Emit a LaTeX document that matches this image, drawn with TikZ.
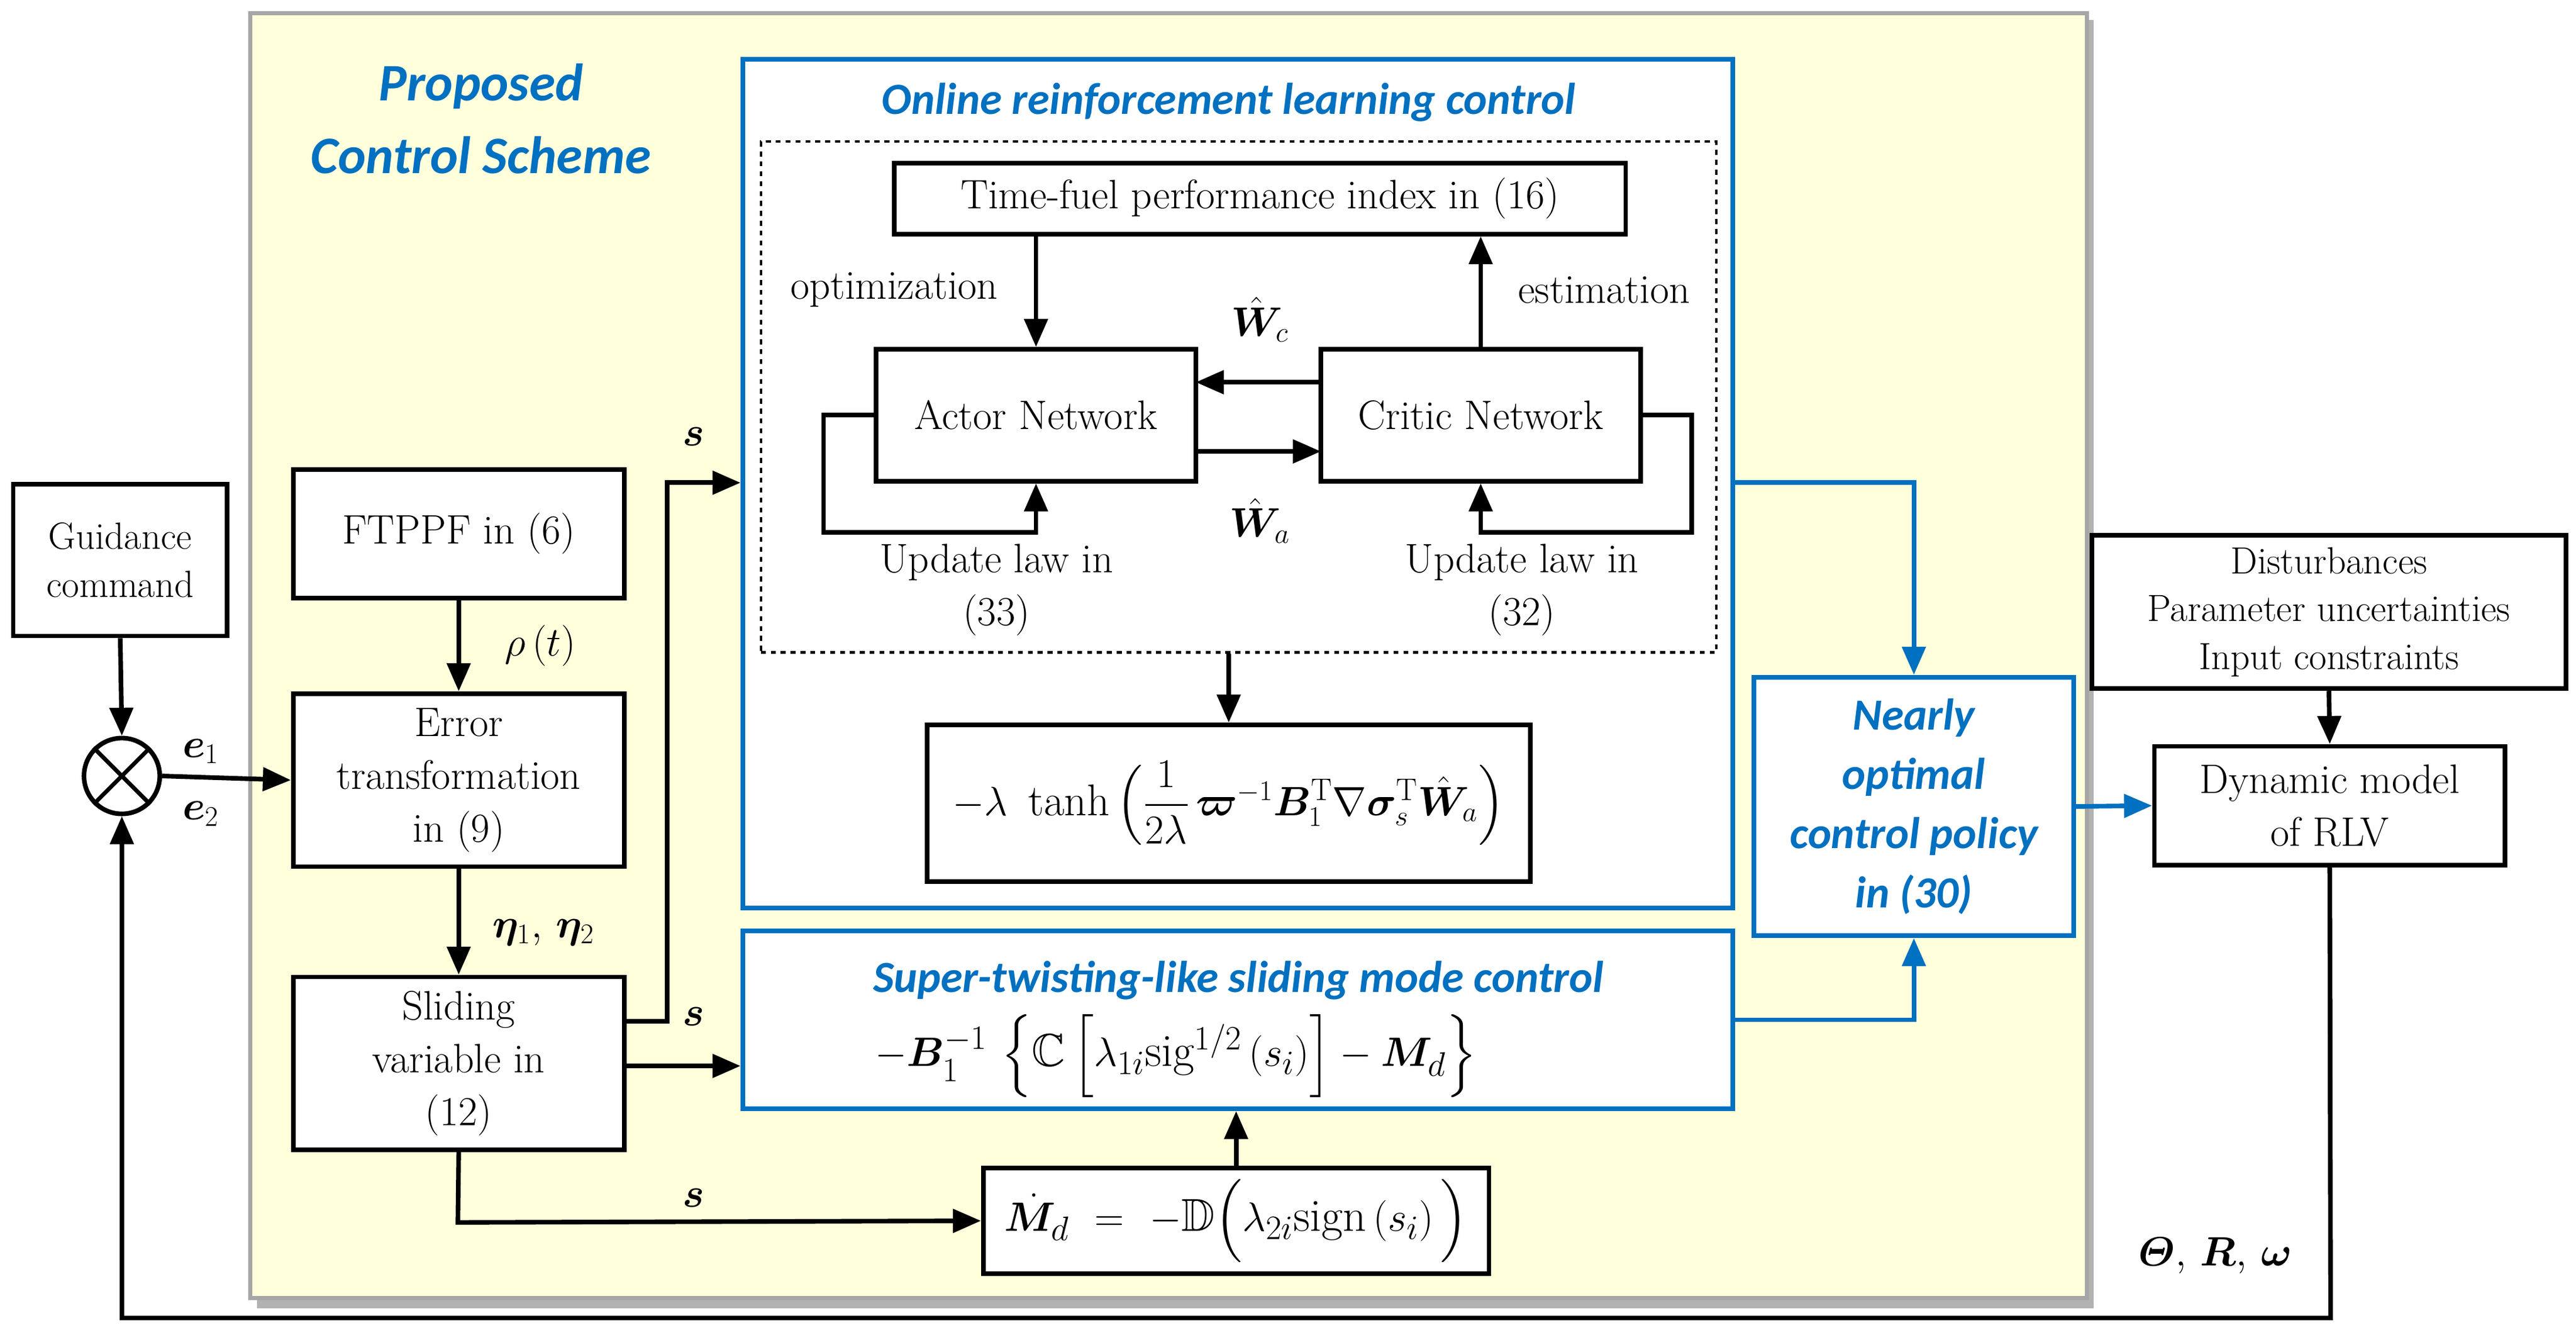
\documentclass[tikz,border=0pt]{standalone}
\usepackage{amsmath,amssymb,bm}
\usepackage{fontspec}
\newfontfamily\calib{Carlito}
\usetikzlibrary{arrows.meta}
\definecolor{cblue}{HTML}{0070C0}
\definecolor{panel}{HTML}{FFFFDC}
\begin{document}
\begin{tikzpicture}[x=1pt,y=-1pt,
  box/.style={draw=black,line width=2.8pt,fill=white,inner sep=0pt,align=center,font=\fontsize{25}{32}\selectfont},
  bbox/.style={draw=cblue,line width=2.8pt,fill=white,inner sep=0pt},
  arr/.style={line width=2.8pt,-{Triangle[length=17pt,width=14pt]}},
  barr/.style={draw=cblue,line width=2.8pt,-{Triangle[length=17pt,width=14pt]}},
  lbl/.style={font=\fontsize{25}{32}\selectfont},
  ttl/.style={text=cblue,font=\calib\bfseries\itshape\fontsize{27}{32}\selectfont},
]
\useasboundingbox (0,0) rectangle (1564,813);
\fill[white] (0,0) rectangle (1564,813);
% panel
\fill[gray!60] (156,12) rectangle (1271,794);
\node[draw=gray!70,line width=2.5pt,fill=panel,minimum width=1115pt,minimum height=780pt,inner sep=0pt] (panel) at (709.5,398) {};
\node[ttl,font=\calib\bfseries\itshape\fontsize{32}{44}\selectfont,align=center] (pcs) at (292,72) {Proposed\\Control Scheme};
% RL box
\node[bbox,minimum width=601pt,minimum height=515pt] (rl) at (751.5,293.5) {};
\node[ttl] (rlt) at (746,62) {Online reinforcement learning control};
\node[draw,dashed,line width=1.5pt,minimum width=580pt,minimum height=310pt,inner sep=0pt] (dot) at (752,241) {};
\node[box,minimum width=444pt,minimum height=43pt] (tf) at (765,120.5) {Time-fuel performance index in (16)};
\node[box,minimum width=194pt,minimum height=80pt] (actor) at (629,252) {Actor Network};
\node[box,minimum width=194pt,minimum height=80pt] (critic) at (899,252) {Critic Network};
\draw[arr] (tf.south -| actor) -- (actor.north);
\draw[arr] (critic.north) -- (tf.south -| critic);
\coordinate (c1) at (802,232); \coordinate (a1) at (726,232);
\draw[arr] (c1) -- (a1);
\coordinate (a2) at (726,274); \coordinate (c2) at (802,274);
\draw[arr] (a2) -- (c2);
\node[lbl] (wc) at (765,194) {$\hat{\bm W}_c$};
\node[lbl] (wa) at (765,316) {$\hat{\bm W}_a$};
\node[lbl] (opt) at (543,176) {optimization};
\node[lbl] (est) at (974,176) {estimation};
\coordinate (al) at (500,323); \coordinate (cr) at (1027,323);
\draw[arr] (actor.west) -| (al) -| (actor.south);
\draw[arr] (critic.east) -| (cr) -| (critic.south);
\node[lbl,align=center] (ul1) at (605,358) {Update law in\\(33)};
\node[lbl,align=center] (ul2) at (924,358) {Update law in\\(32)};
\node[box,minimum width=366pt,minimum height=95pt,font=\fontsize{27}{32}\selectfont] (tanh) at (746,487.5) {$-\lambda\ \tanh\left(\dfrac{1}{2\lambda}\,\bm\varpi^{-1}\bm B_1^{\mathrm T}\nabla\bm\sigma_s^{\mathrm T}\hat{\bm W}_a\right)$};
\draw[arr] (dot.south -| tanh) -- (tanh.north);
% STSMC
\node[bbox,minimum width=601pt,minimum height=108pt] (st) at (751.5,619) {};
\node[ttl] (stt) at (752,595) {Super-twisting-like sliding mode control};
\node[lbl,font=\fontsize{28}{32}\selectfont] (stf) at (714,641) {$-\bm B_1^{-1}\,\left\{\mathbb C\left[\lambda_{1i}\mathrm{sig}^{1/2}\left(s_i\right)\right]-\bm M_d\right\}$};
\node[box,minimum width=307pt,minimum height=64pt,font=\fontsize{28}{32}\selectfont] (md) at (750.5,741) {$\dot{\bm M}_d\ =\ -\mathbb D\Big(\lambda_{2i}\mathrm{sign}\left(s_i\right)\Big)$};
\draw[arr] (md.north) -- (st.south -| md);
% nearly optimal
\node[bbox,minimum width=194pt,minimum height=157pt,align=center,ttl,fill=white,font=\calib\bfseries\itshape\fontsize{27}{36}\selectfont] (no) at (1162,489.5) {Nearly\\optimal\\control policy\\in (30)};
\coordinate (rlr) at (1052,293);
\draw[barr] (rlr) -| (no.north);
\coordinate (str) at (1052,619);
\draw[barr] (str) -| (no.south);
% right boxes
\node[box,minimum width=288pt,minimum height=93pt,font=\fontsize{23}{29}\selectfont] (dist) at (1414,371.5) {Disturbances\\Parameter uncertainties\\Input constraints};
\node[box,minimum width=213pt,minimum height=72pt] (dyn) at (1414.5,489) {Dynamic model\\of RLV};
\draw[barr] (no.east) -- (dyn.west);
\draw[arr] (dist.south) -- (dyn.north);
% left
\node[box,minimum width=130pt,minimum height=92pt,font=\fontsize{23}{29}\selectfont] (gc) at (73,340) {Guidance\\command};
\node[draw,line width=2.8pt,circle,minimum size=46pt,inner sep=0pt,fill=white] (sum) at (74,471) {};
\draw[line width=2.5pt] (sum.north west) -- (sum.south east) (sum.north east) -- (sum.south west);
\draw[arr] (gc.south) -- (sum.north);
\node[box,minimum width=201pt,minimum height=78pt] (ft) at (278.5,324) {FTPPF in (6)};
\node[box,minimum width=201pt,minimum height=105pt] (et) at (278.5,473.5) {Error\\transformation\\in (9)};
\node[box,minimum width=201pt,minimum height=105pt] (sl) at (278.5,645.5) {Sliding\\variable in\\(12)};
\draw[arr] (sum.east) -- (et.west);
\node[lbl] (e1) at (122,456) {$\bm e_1$};
\node[lbl] (e2) at (122,494) {$\bm e_2$};
\draw[arr] (ft.south) -- (et.north);
\node[lbl] (rho) at (328,392) {$\rho\left(t\right)$};
\draw[arr] (et.south) -- (sl.north);
\node[lbl] (eta) at (330,566) {$\bm\eta_1,\,\bm\eta_2$};
\coordinate (s1) at (379,620); \coordinate (s1b) at (405,293);
\draw[arr] (s1) -| (s1b) -- (rl.west |- s1b);
\node[lbl] (sa) at (421,265) {$\bm s$};
\draw[arr] (sl.east |- 0,647) -- (st.west |- 0,647);
\node[lbl] (sb) at (421,617) {$\bm s$};
\coordinate (s3) at (278,742);
\draw[arr] (sl.south) -- (s3) -- (md.west);
\node[lbl] (sc) at (421,727) {$\bm s$};
% feedback
\coordinate (fb1) at (1415,800); \coordinate (fb2) at (74,800);
\draw[arr] (dyn.south) -- (fb1) -- (fb2) -- (sum.south);
\node[lbl] (th) at (1345,762) {$\bm\varTheta,\,\bm R,\,\bm\omega$};
\end{tikzpicture}
\end{document}
